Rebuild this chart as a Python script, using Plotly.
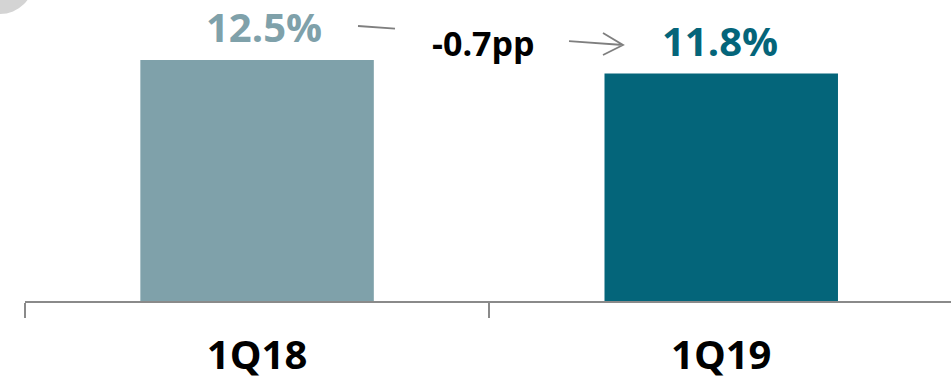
import plotly.graph_objects as go

categories = ["1Q18", "1Q19"]
values = [12.5, 11.8]
value_labels = ["12.5%", "11.8%"]
bar_colors = ["#7fa1aa", "#04657a"]
change_label = "-0.7pp"

W, H = 951, 381
ML, MR, MT, MB = 25, 0, 0, 80
plot_w = W - ML - MR
plot_h = H - MT - MB
ymax = 15.61
FONT = "Open Sans"


def px(xp):
    return (xp - ML) / plot_w


def py(yp):
    return (H - MB - yp) / plot_h


fig = go.Figure()
fig.add_trace(go.Bar(
    x=categories, y=values, marker=dict(color=bar_colors, line=dict(width=0)),
    width=0.503, hoverinfo="skip"
))

for i, (c, v, t) in enumerate(zip(categories, values, value_labels)):
    fig.add_annotation(
        x=c, y=v, text=t, showarrow=False,
        xanchor="center", yanchor="middle", yshift=33,
        xshift=7 if i == 0 else -1,
        font=dict(family=FONT, size=40, color=bar_colors[i], weight="bold"),
    )

fig.add_annotation(
    x=0.5, y=values[1], text=change_label, showarrow=False,
    xanchor="center", yanchor="middle", yshift=30, xshift=-6,
    font=dict(family=FONT, size=34, color="#000000", weight="bold"),
)

# connecting arrow (partly hidden behind the change label)
x_a, y_a = 358, 26
x_b, y_b = 623, 45
def yl(x):
    return y_a + (y_b - y_a) * (x - x_a) / (x_b - x_a)

fig.add_shape(type="line", xref="paper", yref="paper",
              x0=px(x_a), y0=py(y_a), x1=px(395), y1=py(yl(395)),
              line=dict(color="#7f7f7f", width=1.8))
fig.add_shape(type="path", xref="paper", yref="paper",
              path=(f"M {px(569)},{py(yl(569))} L {px(x_b)},{py(y_b)} "
                    f"M {px(603)},{py(33)} L {px(x_b)},{py(y_b)} L {px(603)},{py(55)}"),
              line=dict(color="#7f7f7f", width=1.8))

# decorative circle at top-left
fig.add_shape(type="circle", xref="paper", yref="paper",
              x0=px(-34), x1=px(34), y0=py(14), y1=py(-54),
              fillcolor="#d4d4d4", line=dict(width=0), layer="below")

fig.update_layout(
    width=W, height=H,
    margin=dict(l=ML, r=MR, t=MT, b=MB),
    paper_bgcolor="white", plot_bgcolor="white",
    showlegend=False,
    xaxis=dict(
        type="category", range=[-0.5, 1.495], showgrid=False, zeroline=False,
        showline=True, linecolor="#8a8a8a", linewidth=2,
        ticks="outside", ticklen=15, tickwidth=2, tickcolor="#8a8a8a",
        tickson="boundaries", ticklabelstandoff=18,
        tickfont=dict(family=FONT, size=40, color="#000000", weight="bold"),
    ),
    yaxis=dict(visible=False, range=[0, ymax], fixedrange=True),
)

fig.write_html("out.html")
